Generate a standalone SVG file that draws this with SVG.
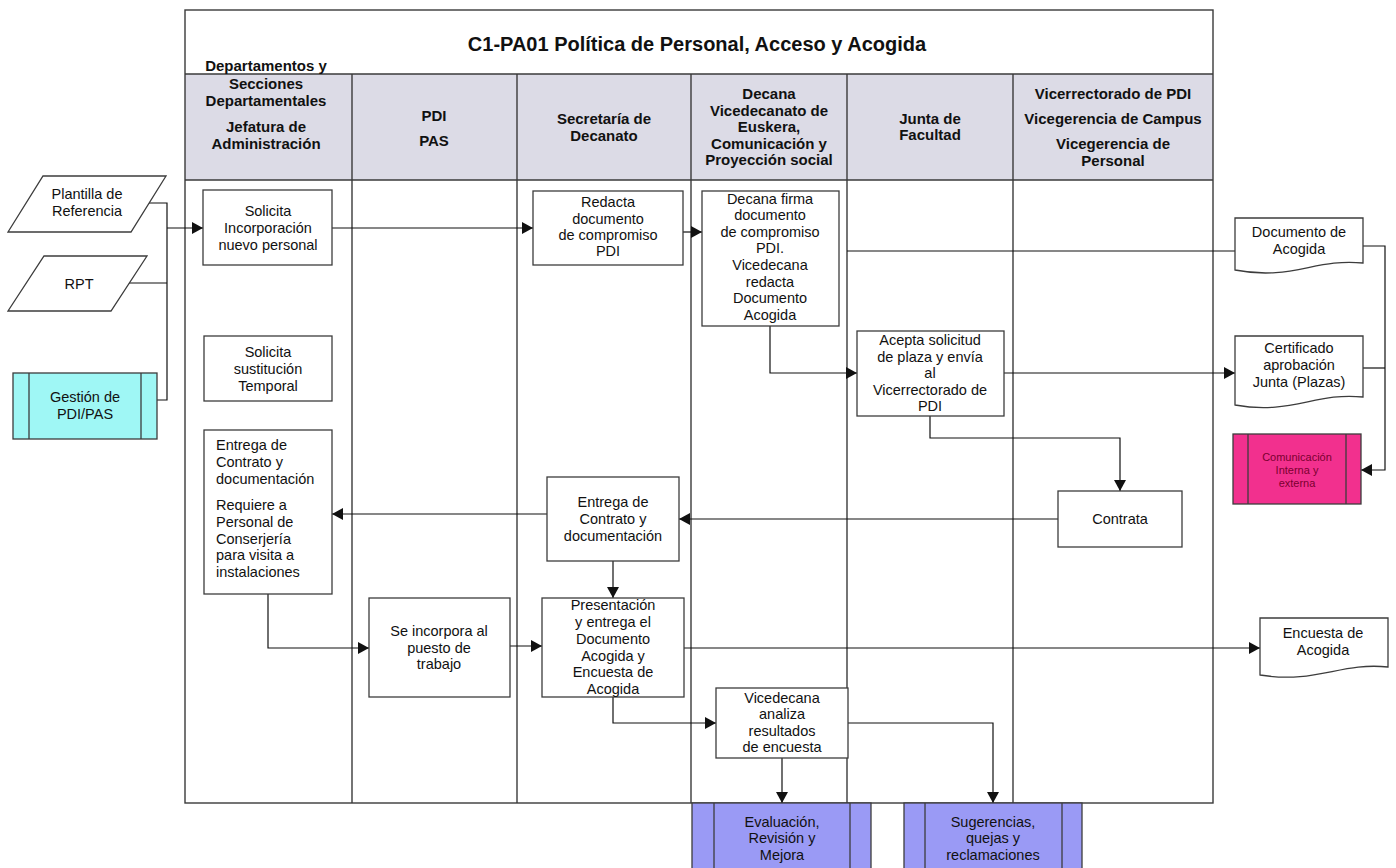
<svg xmlns="http://www.w3.org/2000/svg" width="1396" height="868" viewBox="0 0 1396 868">
  <style>
    .frame { fill: none; stroke: #3a3a3a; stroke-width: 1.4; }
    .hdrbg { fill: #dcdbe6; stroke: none; }
    .hdr { font-family: "Liberation Sans", Arial, sans-serif; font-weight: bold; font-size: 15px; fill: #111; text-anchor: middle; }
    .title { font-family: "Liberation Sans", Arial, sans-serif; font-weight: bold; font-size: 20px; fill: #111; text-anchor: middle; }
    .box { fill: #fff; stroke: #3c3c3c; stroke-width: 1.3; }
    .t { font-family: "Liberation Sans", Arial, sans-serif; font-size: 14.5px; fill: #111; text-anchor: middle; }
    .tl { font-family: "Liberation Sans", Arial, sans-serif; font-size: 14.5px; fill: #111; text-anchor: start; }
    .conn { fill: none; stroke: #111; stroke-width: 1.2; }
    .arr { marker-end: url(#ah); }
    .cyan { fill: #9ff7f5; stroke: #3c3c3c; stroke-width: 1.3; }
    .blue { fill: #9a9af5; stroke: #3c3c3c; stroke-width: 1.3; }
    .pink { fill: #f2308e; stroke: #3c3c3c; stroke-width: 1.3; }
    .bar { fill: none; stroke: #3c3c3c; stroke-width: 1.3; }
    .small { font-family: "Liberation Sans", Arial, sans-serif; font-size: 11px; fill: #7a0030; text-anchor: middle; }
  </style>
  <defs>
    <marker id="ah" markerUnits="userSpaceOnUse" markerWidth="12" markerHeight="12" refX="11" refY="6" orient="auto">
      <path d="M0,0 L11,6 L0,12 Z" fill="#111"/>
    </marker>
  </defs>

  <rect width="1396" height="868" fill="#fff"/>

  <!-- swimlane frame -->
  <g id="pool">
    <rect x="185" y="74" width="1028" height="106" class="hdrbg"/>
    <rect x="185" y="10" width="1028" height="793" class="frame"/>
    <line x1="185" y1="74" x2="1213" y2="74" class="frame"/>
    <line x1="185" y1="180" x2="1213" y2="180" class="frame"/>
    <line x1="352" y1="74" x2="352" y2="803" class="frame"/>
    <line x1="517" y1="74" x2="517" y2="803" class="frame"/>
    <line x1="691" y1="74" x2="691" y2="803" class="frame"/>
    <line x1="847" y1="74" x2="847" y2="803" class="frame"/>
    <line x1="1013" y1="74" x2="1013" y2="803" class="frame"/>
    <text x="697" y="51" class="title">C1-PA01 Política de Personal, Acceso y Acogida</text>
  </g>

  <g id="lane-headers">
    <text class="hdr"><tspan x="266" y="71">Departamentos y</tspan><tspan x="266" y="89">Secciones</tspan><tspan x="266" y="106">Departamentales</tspan><tspan x="266" y="132">Jefatura de</tspan><tspan x="266" y="149">Administración</tspan></text>
    <text class="hdr"><tspan x="434" y="121">PDI</tspan><tspan x="434" y="146">PAS</tspan></text>
    <text class="hdr"><tspan x="604" y="124">Secretaría de</tspan><tspan x="604" y="141">Decanato</tspan></text>
    <text class="hdr"><tspan x="769" y="99">Decana</tspan><tspan x="769" y="116">Vicedecanato de</tspan><tspan x="769" y="132">Euskera,</tspan><tspan x="769" y="149">Comunicación y</tspan><tspan x="769" y="165">Proyección social</tspan></text>
    <text class="hdr"><tspan x="930" y="124">Junta de</tspan><tspan x="930" y="140">Facultad</tspan></text>
    <text class="hdr"><tspan x="1113" y="99">Vicerrectorado de PDI</tspan><tspan x="1113" y="124">Vicegerencia de Campus</tspan><tspan x="1113" y="149">Vicegerencia de</tspan><tspan x="1113" y="166">Personal</tspan></text>
  </g>

  <!-- connectors -->
  <g id="connectors">
    <path class="conn" d="M149 203 H167 V400 H157"/>
    <path class="conn" d="M129 283 H167"/>
    <path class="conn arr" d="M167 228 H203"/>
    <path class="conn arr" d="M332 228 H533"/>
    <path class="conn arr" d="M683 232 H702"/>
    <path class="conn arr" d="M847 251 H1247"/>
    <path class="conn arr" d="M770 326 V373 H857"/>
    <path class="conn arr" d="M1004 373 H1235"/>
    <path class="conn arr" d="M930 416 V438 H1120 V491"/>
    <path class="conn arr" d="M1058 519 H679"/>
    <path class="conn arr" d="M547 514 H332"/>
    <path class="conn arr" d="M613 561 V598"/>
    <path class="conn arr" d="M268 594 V648 H369"/>
    <path class="conn arr" d="M508 646 H542"/>
    <path class="conn arr" d="M684 648 H1260"/>
    <path class="conn arr" d="M613 697 V723 H716"/>
    <path class="conn arr" d="M782 758 V803"/>
    <path class="conn arr" d="M848 723 H993 V803"/>
    <path class="conn arr" d="M1363 246 H1385 V470 H1361"/>
    <path class="conn" d="M1363 368 H1385"/>
  </g>

  <!-- inputs -->
  <g id="plantilla">
    <path class="box" d="M43 176 H166 L131 232 H8 Z"/>
    <text class="t"><tspan x="87" y="199">Plantilla de</tspan><tspan x="87" y="216">Referencia</tspan></text>
  </g>
  <g id="rpt">
    <path class="box" d="M44 256 H147 L111 311 H8 Z"/>
    <text class="t" x="79" y="289">RPT</text>
  </g>
  <g id="gestion">
    <rect x="13" y="373" width="144" height="66" class="cyan"/>
    <line x1="29" y1="373" x2="29" y2="439" class="bar"/>
    <line x1="141" y1="373" x2="141" y2="439" class="bar"/>
    <text class="t"><tspan x="85" y="402">Gestión de</tspan><tspan x="85" y="419">PDI/PAS</tspan></text>
  </g>

  <!-- process steps -->
  <g id="solicita-incorporacion">
    <rect x="203" y="190" width="129" height="75" class="box"/>
    <text class="t"><tspan x="268" y="216">Solicita</tspan><tspan x="268" y="233">Incorporación</tspan><tspan x="268" y="250">nuevo personal</tspan></text>
  </g>
  <g id="redacta">
    <rect x="533" y="191" width="150" height="74" class="box"/>
    <text class="t"><tspan x="608" y="207">Redacta</tspan><tspan x="608" y="224">documento</tspan><tspan x="608" y="240">de compromiso</tspan><tspan x="608" y="256">PDI</tspan></text>
  </g>
  <g id="decana-firma">
    <rect x="702" y="191" width="137" height="135" class="box"/>
    <text class="t"><tspan x="770" y="204">Decana firma</tspan><tspan x="770" y="220">documento</tspan><tspan x="770" y="237">de compromiso</tspan><tspan x="770" y="253">PDI.</tspan><tspan x="770" y="270">Vicedecana</tspan><tspan x="770" y="287">redacta</tspan><tspan x="770" y="303">Documento</tspan><tspan x="770" y="320">Acogida</tspan></text>
  </g>
  <g id="solicita-sustitucion">
    <rect x="204" y="336" width="128" height="65" class="box"/>
    <text class="t"><tspan x="268" y="357">Solicita</tspan><tspan x="268" y="374">sustitución</tspan><tspan x="268" y="391">Temporal</tspan></text>
  </g>
  <g id="acepta">
    <rect x="857" y="331" width="147" height="85" class="box"/>
    <text class="t"><tspan x="930" y="345">Acepta solicitud</tspan><tspan x="930" y="362">de plaza y envía</tspan><tspan x="930" y="378">al</tspan><tspan x="930" y="395">Vicerrectorado de</tspan><tspan x="930" y="411">PDI</tspan></text>
  </g>
  <g id="entrega-jefatura">
    <rect x="204" y="430" width="128" height="164" class="box"/>
    <text class="tl"><tspan x="216" y="450">Entrega de</tspan><tspan x="216" y="467">Contrato y</tspan><tspan x="216" y="484">documentación</tspan><tspan x="216" y="510">Requiere a</tspan><tspan x="216" y="527">Personal de</tspan><tspan x="216" y="544">Conserjería</tspan><tspan x="216" y="560">para visita a</tspan><tspan x="216" y="577">instalaciones</tspan></text>
  </g>
  <g id="entrega-secretaria">
    <rect x="547" y="477" width="132" height="84" class="box"/>
    <text class="t"><tspan x="613" y="507">Entrega de</tspan><tspan x="613" y="524">Contrato y</tspan><tspan x="613" y="541">documentación</tspan></text>
  </g>
  <g id="contrata">
    <rect x="1058" y="491" width="124" height="56" class="box"/>
    <text class="t" x="1120" y="524">Contrata</text>
  </g>
  <g id="se-incorpora">
    <rect x="369" y="598" width="141" height="99" class="box"/>
    <text class="t"><tspan x="439" y="636">Se incorpora al</tspan><tspan x="439" y="653">puesto de</tspan><tspan x="439" y="669">trabajo</tspan></text>
  </g>
  <g id="presentacion">
    <rect x="542" y="598" width="142" height="99" class="box"/>
    <text class="t"><tspan x="613" y="610">Presentación</tspan><tspan x="613" y="627">y entrega el</tspan><tspan x="613" y="644">Documento</tspan><tspan x="613" y="661">Acogida y</tspan><tspan x="613" y="677">Encuesta de</tspan><tspan x="613" y="694">Acogida</tspan></text>
  </g>
  <g id="vicedecana-analiza">
    <rect x="716" y="688" width="132" height="70" class="box"/>
    <text class="t"><tspan x="782" y="703">Vicedecana</tspan><tspan x="782" y="719">analiza</tspan><tspan x="782" y="736">resultados</tspan><tspan x="782" y="752">de encuesta</tspan></text>
  </g>

  <!-- documents -->
  <g id="documento-acogida">
    <path class="box" d="M1235 218 H1363 V263 C1315 258 1292 281 1235 270 Z"/>
    <text class="t"><tspan x="1299" y="237">Documento de</tspan><tspan x="1299" y="254">Acogida</tspan></text>
  </g>
  <g id="certificado">
    <path class="box" d="M1235 336 H1363 V397 C1315 392 1292 415 1235 405 Z"/>
    <text class="t"><tspan x="1299" y="353">Certificado</tspan><tspan x="1299" y="370">aprobación</tspan><tspan x="1299" y="387">Junta (Plazas)</tspan></text>
  </g>
  <g id="encuesta-acogida">
    <path class="box" d="M1260 618 H1388 V667 C1340 662 1317 684 1260 675 Z"/>
    <text class="t"><tspan x="1323" y="638">Encuesta de</tspan><tspan x="1323" y="655">Acogida</tspan></text>
  </g>

  <!-- linked processes -->
  <g id="comunicacion">
    <rect x="1233" y="434" width="128" height="70" class="pink"/>
    <line x1="1248" y1="434" x2="1248" y2="504" class="bar"/>
    <line x1="1346" y1="434" x2="1346" y2="504" class="bar"/>
    <text class="small"><tspan x="1297" y="461">Comunicación</tspan><tspan x="1297" y="474">Interna y</tspan><tspan x="1297" y="487">externa</tspan></text>
  </g>
  <g id="evaluacion">
    <rect x="692" y="803" width="179" height="70" class="blue"/>
    <line x1="714" y1="803" x2="714" y2="873" class="bar"/>
    <line x1="850" y1="803" x2="850" y2="873" class="bar"/>
    <text class="t"><tspan x="782" y="827">Evaluación,</tspan><tspan x="782" y="843">Revisión y</tspan><tspan x="782" y="860">Mejora</tspan></text>
  </g>
  <g id="sugerencias">
    <rect x="904" y="803" width="178" height="70" class="blue"/>
    <line x1="925" y1="803" x2="925" y2="873" class="bar"/>
    <line x1="1062" y1="803" x2="1062" y2="873" class="bar"/>
    <text class="t"><tspan x="993" y="827">Sugerencias,</tspan><tspan x="993" y="843">quejas y</tspan><tspan x="993" y="860">reclamaciones</tspan></text>
  </g>
</svg>
